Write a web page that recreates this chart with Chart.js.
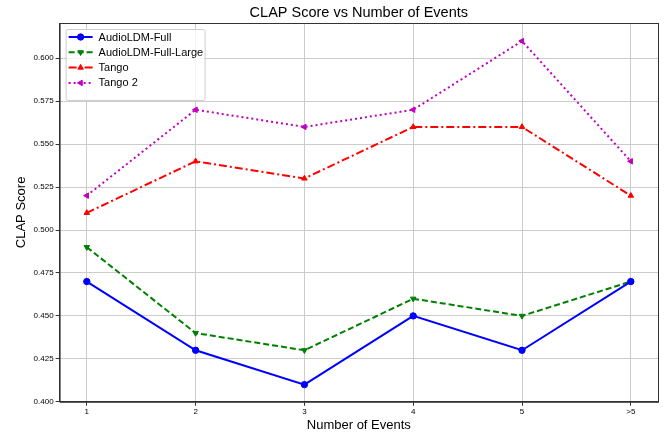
<!DOCTYPE html>
<html>
<head>
<meta charset="utf-8">
<script src="https://cdn.jsdelivr.net/npm/chart.js@4.4.0/dist/chart.umd.min.js"></script>
<style>
    html, body { margin: 0; padding: 0; background: #fff; }
    #wrap { width: 669px; height: 433px; }
</style>
</head>
<body>
<div id="wrap"><canvas id="chart" width="669" height="433"></canvas></div>
<script>
const categories = ['1', '2', '3', '4', '5', '>5'];
const audioLdmFull = [0.47, 0.43, 0.41, 0.45, 0.43, 0.47];
const audioLdmFullLarge = [0.49, 0.44, 0.43, 0.46, 0.45, 0.47];
const tango = [0.51, 0.54, 0.53, 0.56, 0.56, 0.52];
const tango2 = [0.52, 0.57, 0.56, 0.57, 0.61, 0.54];
const yTicks = [0.400, 0.425, 0.450, 0.475, 0.500, 0.525, 0.550, 0.575, 0.600];
const chartTitle = 'CLAP Score vs Number of Events';

const FONT = 'Liberation Sans, Arial, sans-serif';
const toPoints = vals => vals.map((v, i) => ({ x: i, y: v }));

const series = [
    { label: 'AudioLDM-Full', data: audioLdmFull, color: '#0000ff', dash: [], style: 'circle', rot: 0 },
    { label: 'AudioLDM-Full-Large', data: audioLdmFullLarge, color: '#008000', dash: [6, 3], style: 'triangle', rot: 180 },
    { label: 'Tango', data: tango, color: '#ff0000', dash: [8, 3, 2, 3], style: 'triangle', rot: 0 },
    { label: 'Tango 2', data: tango2, color: '#bf00bf', dash: [2, 3], style: 'triangle', rot: 270 }
];

const datasets = series.map(s => ({
    label: s.label,
    data: toPoints(s.data),
    borderColor: s.color,
    backgroundColor: s.color,
    borderWidth: 2,
    borderDash: s.dash,
    pointStyle: s.style,
    pointRotation: s.rot,
    pointRadius: 3.2,
    pointBorderWidth: 1,
    tension: 0,
    fill: false
}));

// title centred over the plot, frame around it, legend box in the upper left
const framePlugin = {
    id: 'frame',
    afterDraw(chart) {
        const { ctx, chartArea: a } = chart;
        ctx.save();
        ctx.strokeStyle = '#333';
        ctx.lineWidth = 1;
        ctx.strokeRect(a.left + 0.5, a.top + 0.5, a.right - a.left, a.bottom - a.top);

        ctx.fillStyle = '#000';
        ctx.font = '14.5px ' + FONT;
        ctx.textAlign = 'center';
        ctx.textBaseline = 'middle';
        ctx.fillText(chartTitle, (a.left + a.right) / 2, a.top - 10);
        ctx.textAlign = 'left';

        const x0 = a.left + 6, y0 = a.top + 6;
        const w = 139, rowH = 15.3, h = 14 + rowH * 3 + 11;
        ctx.fillStyle = 'rgba(255,255,255,0.8)';
        ctx.strokeStyle = '#cccccc';
        ctx.beginPath();
        ctx.roundRect(x0 + 0.5, y0 + 0.5, w, h, 2);
        ctx.fill();
        ctx.stroke();

        ctx.font = '11px ' + FONT;
        chart.data.datasets.forEach((ds, i) => {
            const y = y0 + 8 + i * rowH;
            ctx.strokeStyle = ds.borderColor;
            ctx.lineWidth = 2;
            ctx.setLineDash(ds.borderDash);
            ctx.beginPath();
            ctx.moveTo(x0 + 3, y);
            ctx.lineTo(x0 + 27, y);
            ctx.stroke();
            ctx.setLineDash([]);
            ctx.fillStyle = ds.borderColor;
            ctx.lineWidth = 1;
            Chart.helpers.drawPoint(ctx, {
                pointStyle: ds.pointStyle,
                rotation: ds.pointRotation,
                radius: 3.2,
                borderWidth: 1
            }, x0 + 15, y);
            ctx.fillStyle = '#000';
            ctx.fillText(ds.label, x0 + 33, y + 0.5);
        });
        ctx.restore();
    }
};

const ctx = document.getElementById('chart').getContext('2d');
new Chart(ctx, {
    type: 'line',
    data: { datasets },
    plugins: [framePlugin],
    options: {
        responsive: false,
        animation: false,
        layout: { padding: { left: 14, right: 11, top: 23, bottom: 0 } },
        plugins: {
            title: { display: false },
            legend: { display: false },
            tooltip: { enabled: false }
        },
        scales: {
            x: {
                type: 'linear',
                min: -0.25,
                max: 5.25,
                afterBuildTicks: axis => {
                    axis.ticks = categories.map((c, i) => ({ value: i }));
                },
                ticks: {
                    color: '#000',
                    font: { family: FONT, size: 8 },
                    callback: v => categories[v],
                    maxRotation: 0,
                    padding: 1
                },
                grid: { color: '#cccccc', tickColor: '#333', tickLength: 4 },
                border: { color: '#333', width: 1 },
                title: {
                    display: true,
                    text: 'Number of Events',
                    color: '#000',
                    font: { family: FONT, size: 13 },
                    padding: { top: 0, bottom: 0 }
                }
            },
            y: {
                min: 0.4,
                max: 0.6205,
                afterBuildTicks: axis => {
                    axis.ticks = yTicks.map(v => ({ value: v }));
                },
                ticks: {
                    color: '#000',
                    font: { family: FONT, size: 8 },
                    callback: v => v.toFixed(3),
                    padding: 2
                },
                grid: { color: '#cccccc', tickColor: '#333', tickLength: 4 },
                border: { color: '#333', width: 1 },
                title: {
                    display: true,
                    text: 'CLAP Score',
                    color: '#000',
                    font: { family: FONT, size: 13 },
                    padding: { top: 0, bottom: 2 }
                }
            }
        }
    }
});
</script>
</body>
</html>
